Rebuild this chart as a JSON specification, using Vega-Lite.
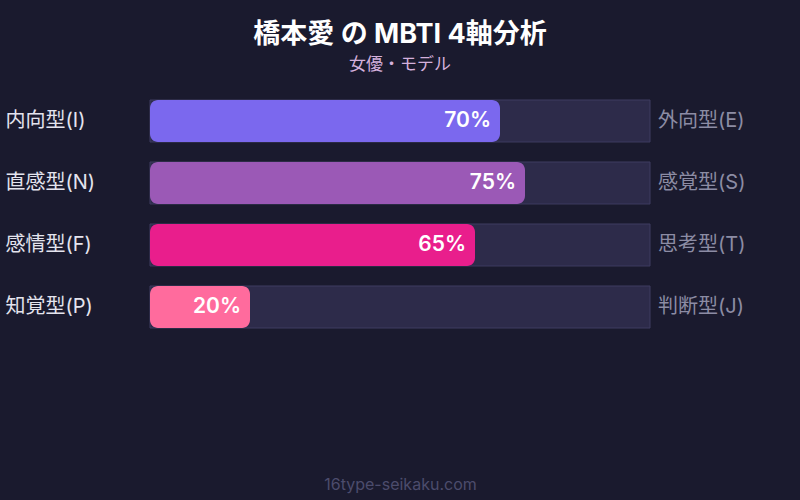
{
  "$schema": "https://vega.github.io/schema/vega-lite/v6.json",
  "autosize": {"type": "none"},
  "width": 500,
  "height": 375,
  "padding": {"left": 150, "right": 150, "top": 85, "bottom": 40},
  "background": "#1a1a2e",
  "title": {
    "text": "橋本愛 の MBTI 4軸分析",
    "subtitle": "女優・モデル",
    "anchor": "middle",
    "frame": "group",
    "offset": 11,
    "font": "Inter, Noto Sans CJK JP",
    "fontSize": 27,
    "fontWeight": "bold",
    "color": "#ffffff",
    "subtitleFont": "Inter, Noto Sans CJK JP",
    "subtitleFontSize": 17,
    "subtitleColor": "#d4b0dc",
    "subtitlePadding": 8
  },
  "data": {
    "values": [
      {"left": "内向型(I)", "right": "外向型(E)", "pct": 70, "label": "70%", "full": 100, "color": "#7b68ee"},
      {"left": "直感型(N)", "right": "感覚型(S)", "pct": 75, "label": "75%", "full": 100, "color": "#9b59b6"},
      {"left": "感情型(F)", "right": "思考型(T)", "pct": 65, "label": "65%", "full": 100, "color": "#e91e8c"},
      {"left": "知覚型(P)", "right": "判断型(J)", "pct": 20, "label": "20%", "full": 100, "color": "#ff6b9d"}
    ]
  },
  "encoding": {
    "y": {
      "field": "left",
      "type": "nominal",
      "sort": null,
      "scale": {"range": [15, 243], "paddingInner": 0.3226, "paddingOuter": 0},
      "axis": {
        "title": null,
        "domain": false,
        "ticks": false,
        "labelAlign": "left",
        "labelPadding": 145,
        "labelFont": "Inter, Noto Sans CJK JP",
        "labelFontSize": 20,
        "labelColor": "#e4e4ee"
      }
    }
  },
  "layer": [
    {
      "mark": {"type": "bar", "color": "#2d2b4a", "stroke": "#3e3c60", "strokeWidth": 1},
      "encoding": {
        "x": {
          "field": "full",
          "type": "quantitative",
          "scale": {"domain": [0, 100], "nice": false},
          "axis": {
            "title": "16type-seikaku.com",
            "titleFont": "Inter, Noto Sans CJK JP",
            "titleFontSize": 16,
            "titleFontWeight": "normal",
            "titleColor": "#4c4c6c",
            "titlePadding": 16,
            "labels": false,
            "ticks": false,
            "domain": false,
            "grid": false
          }
        }
      }
    },
    {
      "mark": {"type": "bar", "cornerRadius": 8},
      "encoding": {
        "x": {"field": "pct", "type": "quantitative"},
        "color": {"field": "color", "type": "nominal", "scale": null}
      }
    },
    {
      "mark": {
        "type": "text",
        "align": "right",
        "dx": -9,
        "font": "Inter, Noto Sans CJK JP",
        "fontSize": 21,
        "fontWeight": 600,
        "color": "#ffffff"
      },
      "encoding": {
        "x": {"field": "pct", "type": "quantitative"},
        "text": {"field": "label", "type": "nominal"}
      }
    },
    {
      "mark": {
        "type": "text",
        "align": "left",
        "dx": 8,
        "font": "Inter, Noto Sans CJK JP",
        "fontSize": 20,
        "color": "#8c8ca4"
      },
      "encoding": {
        "x": {"field": "full", "type": "quantitative"},
        "text": {"field": "right", "type": "nominal"}
      }
    }
  ],
  "config": {"view": {"stroke": null}}
}
